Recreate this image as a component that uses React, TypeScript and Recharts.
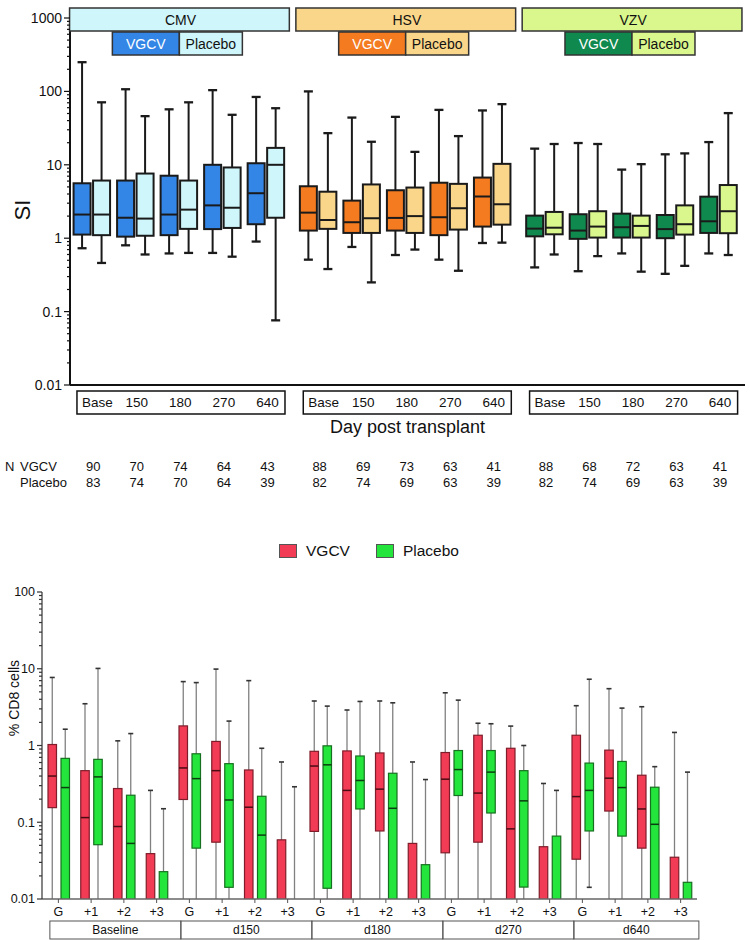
import React from 'react';
import { ComposedChart, Bar, XAxis, YAxis, Legend } from 'recharts';

const FONT = '"Liberation Sans", Arial, Helvetica, sans-serif';

// ---------- top panel: SI per virus, each box is [min, q1, median, q3, max]
const virusNames = ['CMV', 'HSV', 'VZV'];
const dayLabels = ['Base', '150', '180', '270', '640'];

const cmvVgcv = [
  [0.73, 1.12, 2.1, 5.6, 250],
  [0.8, 1.05, 1.9, 6.1, 107],
  [0.62, 1.1, 2.1, 7.1, 57],
  [0.63, 1.33, 2.8, 10, 104],
  [0.9, 1.55, 4.1, 10.5, 84],
];
const cmvPlacebo = [
  [0.46, 1.1, 2.1, 6.1, 71],
  [0.6, 1.08, 1.85, 7.6, 46],
  [0.63, 1.34, 2.45, 6.1, 71],
  [0.56, 1.38, 2.6, 9.2, 48],
  [0.076, 1.9, 10, 17, 59],
];
const hsvVgcv = [
  [0.51, 1.27, 2.23, 5.1, 100],
  [0.76, 1.18, 1.65, 3.25, 44],
  [0.59, 1.27, 1.89, 4.5, 45],
  [0.51, 1.1, 1.93, 5.7, 56],
  [0.86, 1.44, 3.7, 6.7, 55],
];
const hsvPlacebo = [
  [0.38, 1.34, 1.77, 4.3, 27],
  [0.25, 1.18, 1.87, 5.4, 20.6],
  [0.7, 1.18, 2.0, 4.9, 15],
  [0.36, 1.31, 2.56, 5.5, 24.6],
  [0.87, 1.53, 2.9, 10.3, 67],
];
const vzvVgcv = [
  [0.4, 1.06, 1.35, 2.03, 16.6],
  [0.355, 0.98, 1.27, 2.12, 19.8],
  [0.62, 1.02, 1.41, 2.16, 8.6],
  [0.327, 1.0, 1.33, 2.07, 13.9],
  [0.62, 1.18, 1.7, 3.68, 20.4],
];
const vzvPlacebo = [
  [0.6, 1.13, 1.39, 2.28, 19.2],
  [0.57, 1.02, 1.44, 2.33, 19.2],
  [0.35, 1.02, 1.47, 2.03, 10.2],
  [0.42, 1.12, 1.55, 2.8, 14.3],
  [0.59, 1.17, 2.33, 5.3, 50.6],
];

const nVgcv = [
  [90, 70, 74, 64, 43],
  [88, 69, 73, 63, 41],
  [88, 68, 72, 63, 41],
];
const nPlacebo = [
  [83, 74, 70, 64, 39],
  [82, 74, 69, 63, 39],
  [82, 74, 69, 63, 39],
];

// ---------- bottom panel: % CD8 cells, [min, q1, median, q3, max]
// values below 0.01 fall under the axis and are only rough guesses
const cd8Groups = ['Baseline', 'd150', 'd180', 'd270', 'd640'];
const cd8Cats = ['G', '+1', '+2', '+3'];

const cd8Vgcv = [
  [0.004, 0.155, 0.4, 1.03, 7.7],
  [0.003, 0.006, 0.115, 0.47, 3.5],
  [0.003, 0.006, 0.088, 0.275, 1.15],
  [0.002, 0.004, 0.007, 0.039, 0.26],
  [0.004, 0.198, 0.51, 1.8, 6.8],
  [0.004, 0.055, 0.47, 1.13, 9.9],
  [0.003, 0.006, 0.157, 0.48, 7.0],
  [0.002, 0.004, 0.007, 0.059, 0.61],
  [0.004, 0.076, 0.54, 0.84, 3.8],
  [0.003, 0.006, 0.26, 0.85, 2.9],
  [0.004, 0.077, 0.27, 0.8, 3.8],
  [0.002, 0.004, 0.007, 0.053, 0.61],
  [0.004, 0.04, 0.364, 0.81, 4.86],
  [0.004, 0.055, 0.24, 1.36, 1.95],
  [0.003, 0.006, 0.082, 0.92, 1.79],
  [0.002, 0.004, 0.007, 0.048, 0.32],
  [0.004, 0.033, 0.216, 1.36, 3.3],
  [0.004, 0.14, 0.375, 0.87, 5.5],
  [0.004, 0.046, 0.149, 0.41, 3.2],
  [0.002, 0.004, 0.007, 0.035, 1.48],
];
const cd8Placebo = [
  [0.003, 0.006, 0.283, 0.68, 1.63],
  [0.004, 0.051, 0.39, 0.66, 10.1],
  [0.003, 0.006, 0.053, 0.225, 1.43],
  [0.002, 0.004, 0.007, 0.0227, 0.15],
  [0.004, 0.046, 0.37, 0.78, 6.6],
  [0.004, 0.0142, 0.195, 0.58, 2.08],
  [0.003, 0.006, 0.068, 0.218, 0.92],
  [0.002, 0.003, 0.004, 0.006, 0.29],
  [0.004, 0.0138, 0.56, 0.99, 3.26],
  [0.004, 0.149, 0.35, 0.73, 3.75],
  [0.003, 0.006, 0.152, 0.435, 3.6],
  [0.002, 0.004, 0.007, 0.028, 0.36],
  [0.004, 0.223, 0.486, 0.86, 3.9],
  [0.004, 0.132, 0.45, 0.86, 1.92],
  [0.004, 0.0143, 0.19, 0.47, 1.0],
  [0.002, 0.004, 0.007, 0.066, 0.26],
  [0.0142, 0.077, 0.26, 0.59, 7.3],
  [0.004, 0.066, 0.283, 0.62, 3.07],
  [0.003, 0.006, 0.094, 0.286, 0.53],
  [0.002, 0.004, 0.007, 0.0165, 0.45],
];

// ---------- colours
const virusColors = [
  { head: '#CFF6FA', vgcv: '#3385E6', placebo: '#CFF6FA' },
  { head: '#FAD68A', vgcv: '#F47B20', placebo: '#FAD68A' },
  { head: '#D9F78C', vgcv: '#10894E', placebo: '#D9F78C' },
];
const RED = '#F23B55';
const GREEN = '#23E53C';
const legendOrder = ['VGCV', 'Placebo'];

// ---------- rows
const GROUP_STEP = 5.2;
const X_MIN = -0.49;
const X_MAX = 15.02;
const TOP_PLOT_W = 675;
const U = TOP_PLOT_W / (X_MAX - X_MIN);

const topVgcv = [cmvVgcv, hsvVgcv, vzvVgcv];
const topPlacebo = [cmvPlacebo, hsvPlacebo, vzvPlacebo];

const topRows = virusNames.flatMap((_, g) =>
  dayLabels.map((__, i) => ({
    pos: g * GROUP_STEP + i,
    g,
    i,
    vg: topVgcv[g][i],
    pl: topPlacebo[g][i],
    vgRange: [topVgcv[g][i][0], topVgcv[g][i][4]],
    plRange: [topPlacebo[g][i][0], topPlacebo[g][i][4]],
  }))
);
const topTicks = topRows.map((r) => r.pos);
const headTicks = virusNames.map((_, g) => g * GROUP_STEP + 2);

const cd8Rows = cd8Groups.flatMap((grp, gi) =>
  cd8Cats.map((c, ci) => {
    const k = gi * 4 + ci;
    return {
      id: `${grp} ${c}`,
      cat: c,
      gi,
      ci,
      vg: cd8Vgcv[k],
      pl: cd8Placebo[k],
      vgRange: [cd8Vgcv[k][0], cd8Vgcv[k][4]],
      plRange: [cd8Placebo[k][0], cd8Placebo[k][4]],
    };
  })
);

const logTicks = (from: number, to: number) => {
  const out: number[] = [];
  for (let e = from; e < to; e++) {
    for (let k = 1; k <= 9; k++) out.push(Number((k * Math.pow(10, e)).toPrecision(2)));
  }
  out.push(Math.pow(10, to));
  return out;
};
const topYTicks = logTicks(-2, 3);
const botYTicks = logTicks(-2, 2);

// ---------- box shape drawn from the bar's [min, max] extent
type BoxStyle = {
  stroke: string;
  strokeWidth: number;
  whisker: string;
  whiskerWidth: number;
  cap: number;
  capColor: string;
  median: string;
  medianWidth: number;
};

const makeBox = (key: 'vg' | 'pl', fillOf: (row: any) => string, st: BoxStyle) => (props: any) => {
  const { x, y, width, height, payload } = props;
  if (!payload || height == null || isNaN(y)) return <g />;
  const [mn, q1, md, q3, mx] = payload[key];
  const lo = Math.log10(mn);
  const hi = Math.log10(mx);
  const py = (v: number) => y + (height * (hi - Math.log10(v))) / (hi - lo);
  const cx = x + width / 2;
  const h = st.cap / 2;
  return (
    <g>
      <line x1={cx} x2={cx} y1={py(mx)} y2={py(mn)} stroke={st.whisker} strokeWidth={st.whiskerWidth} />
      <line x1={cx - h} x2={cx + h} y1={py(mx)} y2={py(mx)} stroke={st.capColor} strokeWidth={st.whiskerWidth + 0.3} />
      <line x1={cx - h} x2={cx + h} y1={py(mn)} y2={py(mn)} stroke={st.capColor} strokeWidth={st.whiskerWidth + 0.3} />
      <rect
        x={x}
        y={py(q3)}
        width={width}
        height={py(q1) - py(q3)}
        fill={fillOf(payload)}
        stroke={st.stroke}
        strokeWidth={st.strokeWidth}
      />
      <line x1={x} x2={x + width} y1={py(md)} y2={py(md)} stroke={st.median} strokeWidth={st.medianWidth} />
    </g>
  );
};

const topStyle: BoxStyle = {
  stroke: '#1a1a1a',
  strokeWidth: 2,
  whisker: '#1a1a1a',
  whiskerWidth: 2,
  cap: 9,
  capColor: '#1a1a1a',
  median: '#1a1a1a',
  medianWidth: 2,
};
const redStyle: BoxStyle = {
  stroke: '#7F1D2A',
  strokeWidth: 1.2,
  whisker: '#808080',
  whiskerWidth: 1.3,
  cap: 5,
  capColor: '#333',
  median: '#4a0c14',
  medianWidth: 1.5,
};
const greenStyle: BoxStyle = { ...redStyle, stroke: '#17701f', median: '#0b3d10' };

const topVgShape = makeBox('vg', (r) => virusColors[r.g].vgcv, topStyle);
const topPlShape = makeBox('pl', (r) => virusColors[r.g].placebo, topStyle);
const botVgShape = makeBox('vg', () => RED, redStyle);
const botPlShape = makeBox('pl', () => GREEN, greenStyle);

// ---------- axis ticks
const makeLogTick = (fontSize: number, major: number, minor: number, color: string) => (props: any) => {
  const { x, y, payload } = props;
  const v = payload.value;
  const e = Math.log10(v);
  const isMajor = Math.abs(e - Math.round(e)) < 1e-6;
  return (
    <g>
      <line x1={x - (isMajor ? major : minor)} x2={x} y1={y} y2={y} stroke={color} strokeWidth={1.2} />
      {isMajor && (
        <text x={x - major - 2} y={y} dy="0.35em" textAnchor="end" fontSize={fontSize} fill="#111" fontFamily={FONT}>
          {String(v)}
        </text>
      )}
    </g>
  );
};
const topLogTick = makeLogTick(14, 6, 3, '#111');
const botLogTick = makeLogTick(12.5, 5, 3, '#333');

const HeaderTick = (props: any) => {
  const { x, y, index } = props;
  const c = virusColors[index];
  return (
    <g fontFamily={FONT} fontSize={14}>
      <rect x={x - 2.5 * U} y={y - 10} width={5.05 * U} height={23} fill={c.head} stroke="#333" strokeWidth={1.5} />
      <text x={x + 0.05 * U} y={y + 7} textAnchor="middle" fill="#111">
        {virusNames[index]}
      </text>
      <rect x={x - 66} y={y + 14} width={67} height={23} fill={c.vgcv} stroke="#333" strokeWidth={1.5} />
      <text x={x - 32.5} y={y + 30.5} textAnchor="middle" fill="#fff">
        VGCV
      </text>
      <rect x={x + 1} y={y + 14} width={63} height={23} fill={c.placebo} stroke="#333" strokeWidth={1.5} />
      <text x={x + 32.5} y={y + 30.5} textAnchor="middle" fill="#111">
        Placebo
      </text>
    </g>
  );
};

const DayTick = (props: any) => {
  const { x, y, index } = props;
  const row = topRows[index];
  if (!row) return <g />;
  return (
    <g fontFamily={FONT} fill="#111">
      {row.i === 0 && (
        <rect x={x - 0.33 * U} y={y + 6} width={4.78 * U} height={23} fill="none" stroke="#111" strokeWidth={1.5} />
      )}
      <text x={x + (row.i === 0 ? 6 : 2)} y={y + 22} textAnchor="middle" fontSize={13.5}>
        {dayLabels[row.i]}
      </text>
      <text x={x + 2} y={y + 86} textAnchor="middle" fontSize={13}>
        {nVgcv[row.g][row.i]}
      </text>
      <text x={x + 2} y={y + 102} textAnchor="middle" fontSize={13}>
        {nPlacebo[row.g][row.i]}
      </text>
      {index === 0 && (
        <g fontSize={13}>
          <text x={5} y={y + 86}>N</text>
          <text x={20} y={y + 86}>VGCV</text>
          <text x={20} y={y + 102}>Placebo</text>
        </g>
      )}
    </g>
  );
};

const CatTick = (props: any) => {
  const { x, y, index } = props;
  const row = cd8Rows[index];
  if (!row) return <g />;
  const last = row.gi === cd8Groups.length - 1;
  return (
    <g fontFamily={FONT} fill="#111">
      <text x={x} y={y + 11} textAnchor="middle" fontSize={12.5}>
        {row.cat}
      </text>
      {row.ci === 0 && (
        <g>
          <rect x={x - 8.5} y={y + 16} width={last ? 125 : 131} height={18} fill="none" stroke="#555" strokeWidth={1} />
          <text x={x + (last ? 54 : 57)} y={y + 29} textAnchor="middle" fontSize={12}>
            {cd8Groups[row.gi]}
          </text>
        </g>
      )}
    </g>
  );
};

const LegendBox = (props: any) => {
  const items = [...(props.payload || [])].sort(
    (a: any, b: any) => legendOrder.indexOf(a.value) - legendOrder.indexOf(b.value)
  );
  return (
    <div
      style={{
        display: 'flex',
        justifyContent: 'center',
        gap: 26,
        fontFamily: FONT,
        fontSize: 15.5,
        color: '#111',
        marginLeft: -12,
      }}
    >
      {items.map((p: any) => (
        <div key={p.value} style={{ display: 'flex', alignItems: 'center', gap: 9 }}>
          <span style={{ width: 16, height: 12, background: p.color, border: '1px solid #555', display: 'inline-block' }} />
          <span>{p.value}</span>
        </div>
      ))}
    </div>
  );
};

export default function App() {
  return (
    <div style={{ position: 'absolute', left: 0, top: 0, width: 750, height: 940, background: '#fff' }}>
      <div style={{ position: 'absolute', left: 0, top: 0 }}>
        <ComposedChart width={750} height={500} data={topRows} margin={{ top: 17, right: 5, bottom: 0, left: 0 }} barGap={2.5}>
          <XAxis
            xAxisId="head"
            orientation="top"
            type="number"
            dataKey="pos"
            domain={[X_MIN, X_MAX]}
            ticks={headTicks}
            interval={0}
            height={1}
            axisLine={false}
            tickLine={false}
            tickSize={0}
            tickMargin={0}
            tick={(p: any) => <HeaderTick {...p} />}
            allowDataOverflow
          />
          <XAxis
            type="number"
            dataKey="pos"
            domain={[X_MIN, X_MAX]}
            ticks={topTicks}
            interval={0}
            height={115}
            tickLine={false}
            tickSize={0}
            tickMargin={0}
            axisLine={{ stroke: '#111', strokeWidth: 2 }}
            tick={(p: any) => <DayTick {...p} />}
            allowDataOverflow
            label={{ value: 'Day post transplant', position: 'insideTop', offset: 35, fontSize: 18, fill: '#111', fontFamily: FONT }}
          />
          <YAxis
            scale="log"
            type="number"
            domain={[0.01, 1000]}
            ticks={topYTicks}
            interval={0}
            width={70}
            allowDataOverflow
            tickLine={false}
            tickSize={0}
            tickMargin={0}
            axisLine={{ stroke: '#111', strokeWidth: 2 }}
            tick={topLogTick}
            label={{
              content: () => (
                <text x={22} y={210} transform="rotate(-90 22 210)" textAnchor="middle" dominantBaseline="central" fontSize={22} fontFamily={FONT} fill="#111">
                  SI
                </text>
              ),
            }}
          />
          <Bar dataKey="vgRange" name="VGCV" barSize={17} shape={topVgShape} isAnimationActive={false} />
          <Bar dataKey="plRange" name="Placebo" barSize={17} shape={topPlShape} isAnimationActive={false} />
        </ComposedChart>
      </div>

      <div style={{ position: 'absolute', left: 0, top: 530 }}>
        <ComposedChart width={750} height={410} data={cd8Rows} margin={{ top: 62, right: 53, bottom: 0, left: 0 }} barGap={4.5}>
          <Legend
            layout="horizontal"
            verticalAlign="middle"
            align="center"
            wrapperStyle={{ top: 12, left: 0, width: 750 }}
            content={(p: any) => <LegendBox {...p} />}
          />
          <XAxis
            dataKey="id"
            interval={0}
            height={41}
            tickSize={4}
            tickMargin={2}
            tickLine={{ stroke: '#555' }}
            axisLine={{ stroke: '#666', strokeWidth: 1.5 }}
            tick={(p: any) => <CatTick {...p} />}
          />
          <YAxis
            scale="log"
            type="number"
            domain={[0.01, 100]}
            ticks={botYTicks}
            interval={0}
            width={42}
            allowDataOverflow
            tickLine={false}
            tickSize={0}
            tickMargin={0}
            axisLine={{ stroke: '#333', strokeWidth: 1.2 }}
            tick={botLogTick}
            label={{
              content: () => (
                <text x={14} y={168} transform="rotate(-90 14 168)" textAnchor="middle" dominantBaseline="central" fontSize={14} fontFamily={FONT} fill="#111">
                  % CD8 cells
                </text>
              ),
            }}
          />
          <Bar dataKey="vgRange" name="VGCV" fill={RED} barSize={8.5} shape={botVgShape} isAnimationActive={false} />
          <Bar dataKey="plRange" name="Placebo" fill={GREEN} barSize={8.5} shape={botPlShape} isAnimationActive={false} />
        </ComposedChart>
      </div>
    </div>
  );
}
